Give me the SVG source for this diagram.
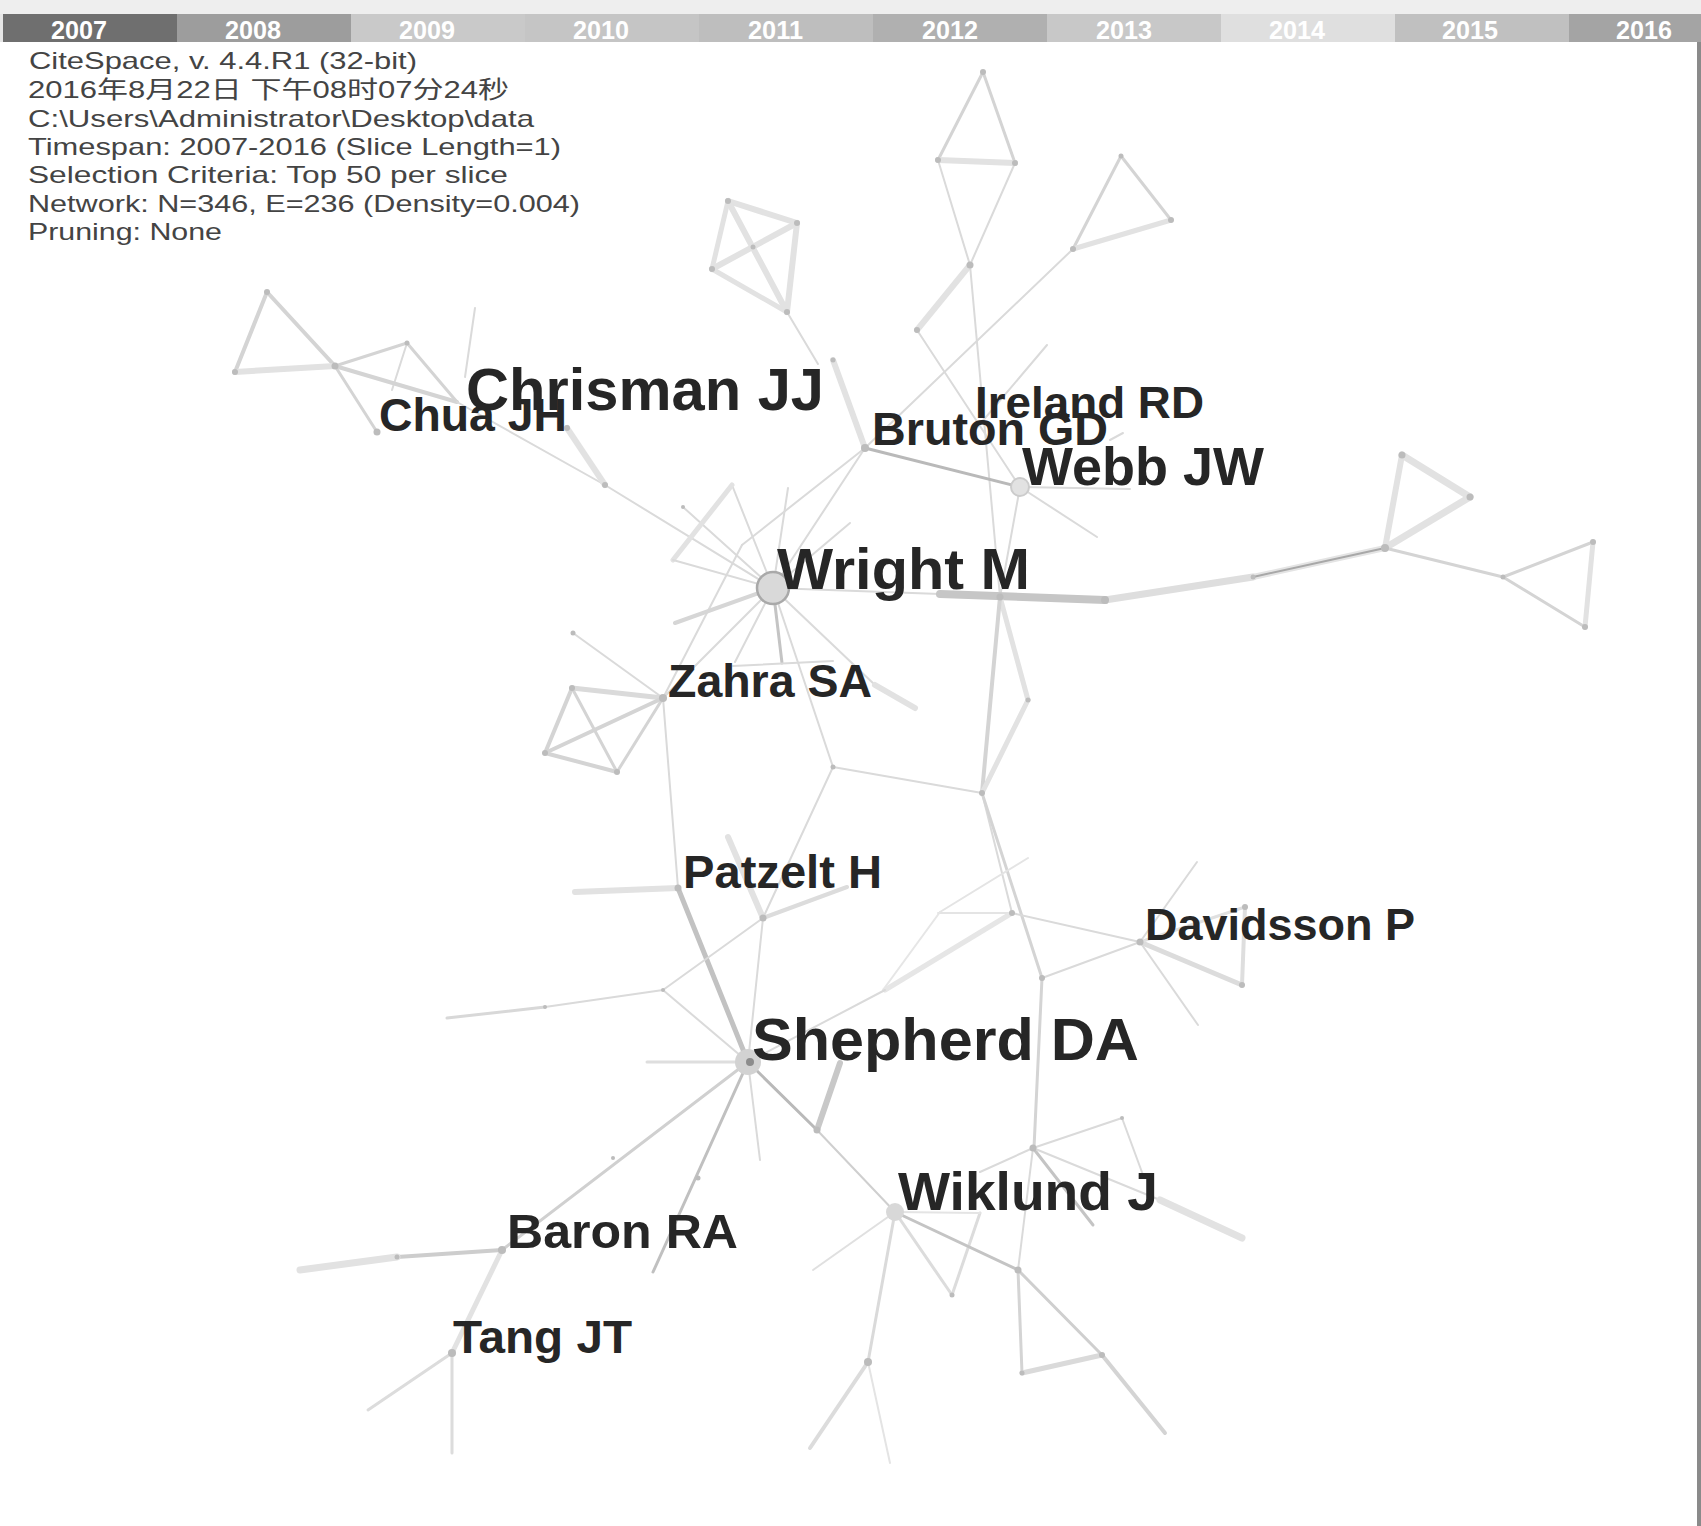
<svg xmlns="http://www.w3.org/2000/svg" width="1701" height="1526" viewBox="0 0 1701 1526">
<style>
.hdr{font-family:"Liberation Sans","DejaVu Sans","Noto Sans CJK SC",sans-serif;font-size:24px;fill:#444}
.yr{font-family:"Liberation Sans",sans-serif;font-size:26px;font-weight:bold;fill:#fff}
.lbl{font-family:"Liberation Sans",Arial,sans-serif;font-weight:bold;fill:#262626}
line{stroke-linecap:round}
.e1{stroke:#dadada;stroke-width:2}
.e2{stroke:#d4d4d4;stroke-width:3}
.t{stroke:#e2e2e2;stroke-width:6}
.td{stroke:#c8c8c8;stroke-width:5}
.d{stroke:#b9b9b9;stroke-width:3}
.n{fill:#bcbcbc}
</style>
<rect x="0" y="0" width="1701" height="1526" fill="#ffffff"/>
<g id="timeline">
<rect x="0" y="0" width="1701" height="14" fill="#eeeeee"/>
<rect x="0" y="14" width="3" height="28" fill="#e6e6e6"/>
<rect x="3" y="14" width="174" height="28" fill="#6f6f6f"/>
<rect x="177" y="14" width="174" height="28" fill="#9d9d9d"/>
<rect x="351" y="14" width="174" height="28" fill="#c9c9c9"/>
<rect x="525" y="14" width="174" height="28" fill="#c5c5c5"/>
<rect x="699" y="14" width="174" height="28" fill="#bebebe"/>
<rect x="873" y="14" width="174" height="28" fill="#b0b0b0"/>
<rect x="1047" y="14" width="174" height="28" fill="#c8c8c8"/>
<rect x="1221" y="14" width="174" height="28" fill="#dfdfdf"/>
<rect x="1395" y="14" width="174" height="28" fill="#c0c0c0"/>
<rect x="1569" y="14" width="132" height="28" fill="#a4a4a4"/>
<text class="yr" x="51" y="39" textLength="56" lengthAdjust="spacingAndGlyphs">2007</text>
<text class="yr" x="225" y="39" textLength="56" lengthAdjust="spacingAndGlyphs">2008</text>
<text class="yr" x="399" y="39" textLength="56" lengthAdjust="spacingAndGlyphs">2009</text>
<text class="yr" x="573" y="39" textLength="56" lengthAdjust="spacingAndGlyphs">2010</text>
<text class="yr" x="748" y="39" textLength="55" lengthAdjust="spacingAndGlyphs">2011</text>
<text class="yr" x="922" y="39" textLength="56" lengthAdjust="spacingAndGlyphs">2012</text>
<text class="yr" x="1096" y="39" textLength="56" lengthAdjust="spacingAndGlyphs">2013</text>
<text class="yr" x="1269" y="39" textLength="56" lengthAdjust="spacingAndGlyphs">2014</text>
<text class="yr" x="1442" y="39" textLength="56" lengthAdjust="spacingAndGlyphs">2015</text>
<text class="yr" x="1616" y="39" textLength="56" lengthAdjust="spacingAndGlyphs">2016</text>
<rect x="1697" y="42" width="4" height="1484" fill="#8a8a8a"/>
</g>
<g id="header">
<text class="hdr" x="29" y="69" textLength="388" lengthAdjust="spacingAndGlyphs">CiteSpace, v. 4.4.R1 (32-bit)</text>
<text class="hdr" x="28" y="98" textLength="481" lengthAdjust="spacingAndGlyphs">2016年8月22日 下午08时07分24秒</text>
<text class="hdr" x="28" y="127" textLength="506" lengthAdjust="spacingAndGlyphs">C:\Users\Administrator\Desktop\data</text>
<text class="hdr" x="28" y="155" textLength="533" lengthAdjust="spacingAndGlyphs">Timespan: 2007-2016 (Slice Length=1)</text>
<text class="hdr" x="28" y="183" textLength="480" lengthAdjust="spacingAndGlyphs">Selection Criteria: Top 50 per slice</text>
<text class="hdr" x="28" y="212" textLength="552" lengthAdjust="spacingAndGlyphs">Network: N=346, E=236 (Density=0.004)</text>
<text class="hdr" x="28" y="240" textLength="194" lengthAdjust="spacingAndGlyphs">Pruning: None</text>
</g>
<g id="connectors" fill="none">
<line class="e2" x1="983" y1="72" x2="938" y2="160"/>
<line class="e2" x1="983" y1="72" x2="1015" y2="163"/>
<line class="t" x1="938" y1="160" x2="1015" y2="163"/>
<line class="e1" x1="938" y1="160" x2="970" y2="265"/>
<line class="e1" x1="1015" y1="163" x2="970" y2="265"/>
<line class="t" x1="970" y1="265" x2="917" y2="330"/>
<line class="e1" x1="917" y1="330" x2="1020" y2="487"/>
<line class="e1" x1="970" y1="265" x2="1000" y2="597"/>
<line class="e2" x1="1121" y1="156" x2="1171" y2="220"/>
<line class="e2" x1="1121" y1="156" x2="1073" y2="249"/>
<line class="t" x1="1073" y1="249" x2="1171" y2="220" style="stroke-width:5"/>
<line class="e1" x1="1073" y1="249" x2="865" y2="448"/>
<line class="e1" x1="1047" y1="345" x2="975" y2="430"/>
<line class="e1" x1="1110" y1="440" x2="1123" y2="433"/>
<line class="t" x1="728" y1="201" x2="797" y2="223"/>
<line class="t" x1="728" y1="201" x2="712" y2="269" style="stroke-width:5"/>
<line class="t" x1="728" y1="201" x2="787" y2="312"/>
<line class="t" x1="797" y1="223" x2="712" y2="269"/>
<line class="t" x1="797" y1="223" x2="787" y2="312"/>
<line class="t" x1="712" y1="269" x2="787" y2="312" style="stroke-width:5"/>
<line class="e1" x1="787" y1="312" x2="818" y2="364"/>
<line class="t" x1="833" y1="360" x2="865" y2="448"/>
<line class="d" x1="865" y1="448" x2="1020" y2="487"/>
<line class="e1" x1="1020" y1="487" x2="1130" y2="489"/>
<line class="e1" x1="1020" y1="487" x2="1097" y2="537"/>
<line class="e1" x1="1020" y1="487" x2="1000" y2="597"/>
<line class="e1" x1="865" y1="448" x2="773" y2="588"/>
<line class="e1" x1="865" y1="448" x2="742" y2="545"/>
<line class="e1" x1="742" y1="545" x2="663" y2="698"/>
<line class="e2" x1="267" y1="292" x2="235" y2="372" style="stroke-width:4"/>
<line class="e2" x1="267" y1="292" x2="335" y2="366" style="stroke-width:4"/>
<line class="t" x1="235" y1="372" x2="335" y2="366"/>
<line class="e2" x1="335" y1="366" x2="407" y2="343"/>
<line class="e2" x1="407" y1="343" x2="457" y2="402"/>
<line class="e1" x1="407" y1="343" x2="392" y2="390"/>
<line class="e2" x1="335" y1="366" x2="457" y2="402" style="stroke-width:4"/>
<line class="e2" x1="335" y1="366" x2="377" y2="432"/>
<line class="e1" x1="475" y1="308" x2="465" y2="377"/>
<line class="e1" x1="457" y1="402" x2="605" y2="485"/>
<line class="t" x1="567" y1="428" x2="605" y2="485"/>
<line class="e1" x1="605" y1="485" x2="773" y2="588"/>
<line class="e1" x1="683" y1="507" x2="773" y2="588"/>
<line class="e1" x1="732" y1="485" x2="773" y2="588"/>
<line class="t" x1="732" y1="485" x2="673" y2="560" style="stroke-width:5"/>
<line class="e1" x1="673" y1="560" x2="773" y2="588"/>
<line class="e1" x1="788" y1="488" x2="773" y2="588"/>
<line class="e1" x1="850" y1="523" x2="773" y2="588"/>
<line x1="675" y1="623" x2="773" y2="588" stroke="#d6d6d6" stroke-width="4"/>
<line class="e1" x1="773" y1="588" x2="663" y2="698"/>
<line class="e1" x1="773" y1="588" x2="735" y2="662"/>
<line class="d" x1="773" y1="588" x2="782" y2="663" style="stroke:#c4c4c4"/>
<line class="e1" x1="733" y1="666" x2="833" y2="661"/>
<line class="e1" x1="773" y1="588" x2="875" y2="685"/>
<line class="t" x1="875" y1="685" x2="915" y2="708"/>
<line class="e1" x1="773" y1="588" x2="833" y2="767"/>
<line class="e1" x1="773" y1="588" x2="940" y2="594"/>
<line x1="940" y1="594" x2="1105" y2="600" stroke="#c6c6c6" stroke-width="8"/>
<line x1="1105" y1="600" x2="1253" y2="577" stroke="#dedede" stroke-width="7"/>
<line x1="1253" y1="577" x2="1385" y2="548" stroke="#e4e4e4" stroke-width="6"/>
<line x1="1253" y1="577" x2="1385" y2="548" stroke="#a8a8a8" stroke-width="2"/>
<line class="t" x1="1385" y1="548" x2="1402" y2="455"/>
<line class="t" x1="1402" y1="455" x2="1470" y2="497" style="stroke-width:7"/>
<line class="t" x1="1470" y1="497" x2="1385" y2="548" style="stroke-width:7"/>
<line class="e2" x1="1385" y1="548" x2="1503" y2="577"/>
<line class="e2" x1="1503" y1="577" x2="1593" y2="542"/>
<line class="t" x1="1593" y1="542" x2="1585" y2="627" style="stroke-width:5"/>
<line class="e2" x1="1585" y1="627" x2="1503" y2="577"/>
<line class="t" x1="1000" y1="597" x2="1028" y2="700" style="stroke-width:5"/>
<line class="e2" x1="1000" y1="597" x2="982" y2="793" style="stroke-width:4"/>
<line class="t" x1="1028" y1="700" x2="982" y2="793" style="stroke-width:5"/>
<line class="e1" x1="833" y1="767" x2="982" y2="793"/>
<line class="e1" x1="833" y1="767" x2="763" y2="918"/>
<line class="e1" x1="982" y1="793" x2="1012" y2="913"/>
<line class="e2" x1="982" y1="793" x2="1042" y2="978"/>
<line class="e1" x1="1012" y1="913" x2="1140" y2="942"/>
<line class="e1" x1="1012" y1="913" x2="938" y2="913" style="stroke:#e4e4e4"/>
<line class="t" x1="1012" y1="913" x2="885" y2="990" style="stroke-width:5;stroke:#e6e6e6"/>
<line class="e1" x1="1028" y1="858" x2="940" y2="912" style="stroke:#e4e4e4"/>
<line class="e1" x1="940" y1="912" x2="883" y2="990" style="stroke:#e6e6e6"/>
<line class="e1" x1="1042" y1="978" x2="1140" y2="942"/>
<line class="e2" x1="1042" y1="978" x2="1034" y2="1148"/>
<line class="e1" x1="1140" y1="942" x2="1197" y2="862"/>
<line class="t" x1="1140" y1="942" x2="1242" y2="985" style="stroke-width:5;stroke:#dcdcdc"/>
<line class="e2" x1="1242" y1="985" x2="1245" y2="907" style="stroke-width:4;stroke:#dedede"/>
<line class="e2" x1="1140" y1="942" x2="1245" y2="907" style="stroke:#e0e0e0"/>
<line class="e1" x1="1140" y1="942" x2="1198" y2="1025"/>
<line class="t" x1="572" y1="688" x2="663" y2="698" style="stroke-width:5;stroke:#dadada"/>
<line class="e2" x1="572" y1="688" x2="545" y2="753" style="stroke-width:4"/>
<line class="e2" x1="572" y1="688" x2="617" y2="772"/>
<line class="e2" x1="545" y1="753" x2="663" y2="698" style="stroke-width:4"/>
<line class="e2" x1="545" y1="753" x2="617" y2="772" style="stroke-width:4"/>
<line class="e2" x1="617" y1="772" x2="663" y2="698"/>
<line class="e1" x1="573" y1="633" x2="663" y2="698"/>
<line class="e1" x1="663" y1="698" x2="678" y2="888"/>
<line class="t" x1="575" y1="892" x2="678" y2="888"/>
<line class="td" x1="678" y1="888" x2="748" y2="1062" style="stroke:#c2c2c2"/>
<line class="t" x1="728" y1="837" x2="763" y2="918"/>
<line class="e2" x1="763" y1="918" x2="847" y2="887" style="stroke-width:4;stroke:#dcdcdc"/>
<line class="e1" x1="763" y1="918" x2="748" y2="1062"/>
<line class="e1" x1="763" y1="918" x2="663" y2="990"/>
<line class="e1" x1="663" y1="990" x2="545" y2="1007"/>
<line class="e1" x1="663" y1="990" x2="748" y2="1062"/>
<line class="e2" x1="545" y1="1007" x2="447" y2="1018" style="stroke:#d8d8d8"/>
<line class="e2" x1="748" y1="1062" x2="647" y2="1062" style="stroke:#dedede"/>
<line class="d" x1="748" y1="1062" x2="817" y2="1130"/>
<line class="td" x1="817" y1="1130" x2="840" y2="1063" style="stroke-width:6"/>
<line class="e1" x1="817" y1="1130" x2="895" y2="1212" style="stroke:#cfcfcf"/>
<line class="e2" x1="748" y1="1062" x2="502" y2="1250" style="stroke:#d0d0d0"/>
<line class="d" x1="748" y1="1062" x2="653" y2="1272" style="stroke:#c0c0c0"/>
<line class="e1" x1="748" y1="1062" x2="760" y2="1160"/>
<line class="e1" x1="748" y1="1062" x2="885" y2="990"/>
<line class="d" x1="502" y1="1250" x2="397" y2="1257" style="stroke:#cdcdcd;stroke-width:4"/>
<line class="t" x1="397" y1="1257" x2="300" y2="1270" style="stroke-width:7"/>
<line class="t" x1="502" y1="1250" x2="452" y2="1353" style="stroke-width:5"/>
<line class="e2" x1="452" y1="1353" x2="368" y2="1410" style="stroke:#dcdcdc"/>
<line class="e2" x1="452" y1="1353" x2="452" y2="1453" style="stroke:#dcdcdc"/>
<line class="e1" x1="895" y1="1212" x2="813" y2="1270" style="stroke:#e0e0e0"/>
<line class="e2" x1="895" y1="1212" x2="868" y2="1362" style="stroke:#dadada"/>
<line class="e2" x1="868" y1="1362" x2="810" y2="1448" style="stroke-width:4;stroke:#dcdcdc"/>
<line class="e1" x1="868" y1="1362" x2="890" y2="1463" style="stroke:#e4e4e4"/>
<line class="e2" x1="895" y1="1212" x2="952" y2="1295" style="stroke:#dcdcdc"/>
<line class="e2" x1="952" y1="1295" x2="980" y2="1213" style="stroke:#dcdcdc"/>
<line class="e1" x1="895" y1="1212" x2="980" y2="1213" style="stroke:#e4e4e4"/>
<line class="d" x1="895" y1="1212" x2="1018" y2="1270" style="stroke:#c4c4c4"/>
<line class="e2" x1="1018" y1="1270" x2="1022" y2="1373"/>
<line class="t" x1="1022" y1="1373" x2="1102" y2="1355" style="stroke-width:5;stroke:#dadada"/>
<line class="e2" x1="1018" y1="1270" x2="1102" y2="1355" style="stroke:#cfcfcf"/>
<line class="e2" x1="1102" y1="1355" x2="1165" y2="1433" style="stroke-width:4"/>
<line class="e1" x1="1033" y1="1148" x2="1122" y2="1118"/>
<line class="e1" x1="1122" y1="1118" x2="1143" y2="1175"/>
<line class="d" x1="1033" y1="1148" x2="1093" y2="1225" style="stroke:#c4c4c4"/>
<line class="e1" x1="1033" y1="1148" x2="1160" y2="1200"/>
<line class="t" x1="1160" y1="1200" x2="1242" y2="1238" style="stroke-width:7"/>
<line class="e1" x1="1033" y1="1148" x2="980" y2="1172"/>
<line class="e1" x1="1033" y1="1148" x2="1018" y2="1270"/>
</g>
<g id="minor-nodes">
<circle class="n" cx="983" cy="72" r="3"/><circle class="n" cx="938" cy="160" r="3"/><circle class="n" cx="1015" cy="163" r="3"/>
<circle class="n" cx="970" cy="265" r="3.5"/><circle class="n" cx="917" cy="330" r="3"/><circle class="n" cx="1121" cy="156" r="2.5"/>
<circle class="n" cx="1171" cy="220" r="3"/><circle class="n" cx="1073" cy="249" r="3"/>
<circle class="n" cx="728" cy="201" r="3"/><circle class="n" cx="797" cy="223" r="3"/><circle class="n" cx="712" cy="269" r="3"/><circle class="n" cx="787" cy="312" r="3"/><circle class="n" cx="753" cy="247" r="2.5"/>
<circle class="n" cx="833" cy="360" r="2.5"/>
<circle class="n" cx="267" cy="292" r="3"/><circle class="n" cx="235" cy="372" r="3"/><circle class="n" cx="335" cy="366" r="3.5"/><circle class="n" cx="407" cy="343" r="2.5"/>
<circle class="n" cx="377" cy="432" r="3.5"/><circle class="n" cx="605" cy="485" r="3"/><circle class="n" cx="683" cy="507" r="2"/>
<circle class="n" cx="1000" cy="597" r="3.5"/><circle class="n" cx="1105" cy="600" r="4"/><circle class="n" cx="1253" cy="577" r="2.5"/>
<circle class="n" cx="1385" cy="548" r="4"/><circle class="n" cx="1402" cy="455" r="3.5"/><circle class="n" cx="1470" cy="497" r="3.5"/>
<circle class="n" cx="1503" cy="577" r="2.5"/><circle class="n" cx="1593" cy="542" r="3"/><circle class="n" cx="1585" cy="627" r="3"/>
<circle class="n" cx="1028" cy="700" r="2.5"/><circle class="n" cx="982" cy="793" r="3"/><circle class="n" cx="833" cy="767" r="2.5"/>
<circle class="n" cx="1012" cy="913" r="3"/><circle class="n" cx="1042" cy="978" r="3"/><circle class="n" cx="1242" cy="985" r="3"/><circle class="n" cx="1245" cy="907" r="3"/>
<circle class="n" cx="572" cy="688" r="3"/><circle class="n" cx="545" cy="753" r="3"/><circle class="n" cx="617" cy="772" r="3"/><circle class="n" cx="573" cy="633" r="2.5"/>
<circle class="n" cx="763" cy="918" r="3.5"/><circle class="n" cx="663" cy="990" r="2"/><circle class="n" cx="545" cy="1007" r="2"/>
<circle class="n" cx="817" cy="1130" r="3.5"/><circle class="n" cx="698" cy="1178" r="2.5"/><circle class="n" cx="613" cy="1158" r="2"/>
<circle class="n" cx="397" cy="1257" r="2.5"/><circle class="n" cx="868" cy="1362" r="4"/><circle class="n" cx="952" cy="1295" r="2.5"/>
<circle class="n" cx="1018" cy="1270" r="3.5"/><circle class="n" cx="1102" cy="1355" r="3"/><circle class="n" cx="1022" cy="1373" r="2.5"/>
<circle class="n" cx="1033" cy="1148" r="3.5"/><circle class="n" cx="1122" cy="1118" r="2"/>
</g>
<g id="node-chua-jh">
<text class="lbl" x="379" y="431" font-size="47" textLength="188" lengthAdjust="spacingAndGlyphs">Chua JH</text>
</g>
<g id="node-chrisman-jj">
<circle class="n" cx="567" cy="428" r="3"/>
<text class="lbl" x="466" y="410" font-size="59" textLength="358" lengthAdjust="spacingAndGlyphs">Chrisman JJ</text>
</g>
<g id="node-bruton-gd">
<circle class="n" cx="865" cy="448" r="4"/>
<text class="lbl" x="872" y="445" font-size="46" textLength="236" lengthAdjust="spacingAndGlyphs">Bruton GD</text>
</g>
<g id="node-ireland-rd">
<text class="lbl" x="975" y="418" font-size="45" textLength="229" lengthAdjust="spacingAndGlyphs">Ireland RD</text>
</g>
<g id="node-webb-jw">
<circle cx="1020" cy="487" r="9" fill="#e2e2e2" stroke="#cccccc" stroke-width="2"/>
<text class="lbl" x="1022" y="485" font-size="53" textLength="242" lengthAdjust="spacingAndGlyphs">Webb JW</text>
</g>
<g id="node-wright-m">
<circle cx="773" cy="588" r="16" fill="#d9d9d9" stroke="#a9a9a9" stroke-width="2.5"/>
<text class="lbl" x="777" y="589" font-size="58" textLength="253" lengthAdjust="spacingAndGlyphs">Wright M</text>
</g>
<g id="node-zahra-sa">
<circle class="n" cx="663" cy="698" r="4"/>
<text class="lbl" x="668" y="697" font-size="47" textLength="204" lengthAdjust="spacingAndGlyphs">Zahra SA</text>
</g>
<g id="node-patzelt-h">
<circle class="n" cx="678" cy="888" r="3.5"/>
<text class="lbl" x="683" y="888" font-size="46" textLength="199" lengthAdjust="spacingAndGlyphs">Patzelt H</text>
</g>
<g id="node-davidsson-p">
<circle class="n" cx="1140" cy="942" r="3.5"/>
<text class="lbl" x="1145" y="940" font-size="45" textLength="270" lengthAdjust="spacingAndGlyphs">Davidsson P</text>
</g>
<g id="node-shepherd-da">
<circle cx="748" cy="1062" r="13" fill="#d2d2d2"/>
<circle cx="750" cy="1062" r="4" fill="#8c8c8c"/>
<text class="lbl" x="752" y="1060" font-size="60" textLength="387" lengthAdjust="spacingAndGlyphs">Shepherd DA</text>
</g>
<g id="node-wiklund-j">
<circle cx="895" cy="1212" r="9" fill="#d8d8d8"/>
<text class="lbl" x="898" y="1210" font-size="54" textLength="260" lengthAdjust="spacingAndGlyphs">Wiklund J</text>
</g>
<g id="node-baron-ra">
<circle class="n" cx="502" cy="1250" r="4"/>
<text class="lbl" x="507" y="1248" font-size="49" textLength="231" lengthAdjust="spacingAndGlyphs">Baron RA</text>
</g>
<g id="node-tang-jt">
<circle class="n" cx="452" cy="1353" r="4"/>
<text class="lbl" x="453" y="1353" font-size="46" textLength="179" lengthAdjust="spacingAndGlyphs">Tang JT</text>
</g>
</svg>
